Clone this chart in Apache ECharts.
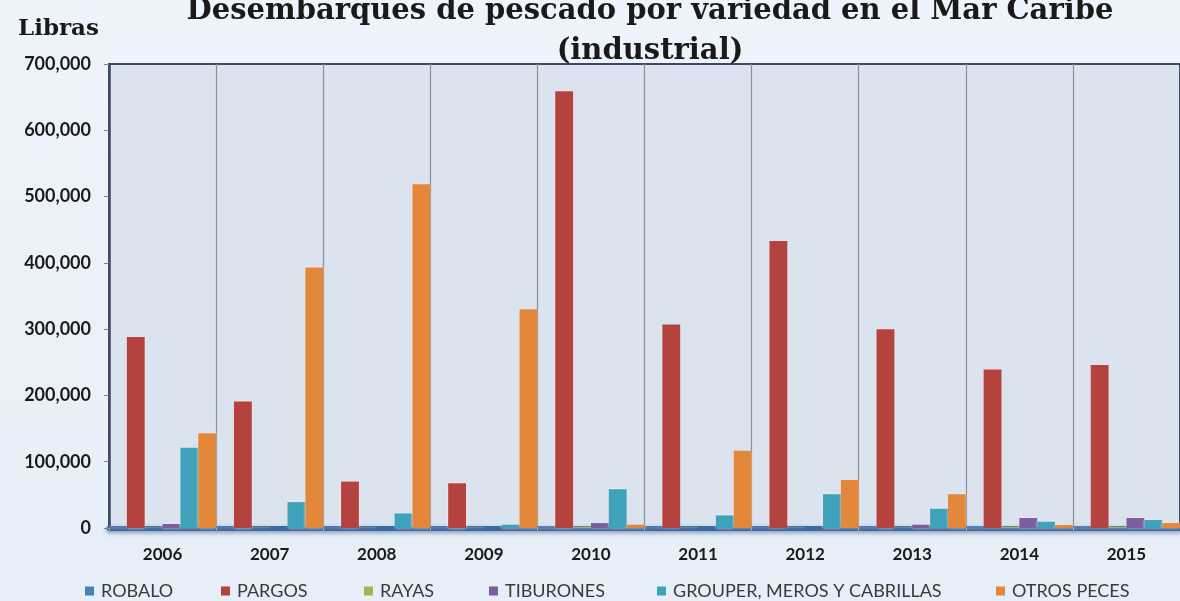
<!DOCTYPE html>
<html>
<head>
<meta charset="utf-8">
<script src="https://cdn.jsdelivr.net/npm/echarts@6/dist/echarts.min.js"></script>
<style>
  html, body { margin: 0; padding: 0; background: #edf3fa; }
  #chart { width: 1180px; height: 601px; }
</style>
</head>
<body>
<div id="chart"></div>
<script>
// años
var years = ['2006', '2007', '2008', '2009', '2010', '2011', '2012', '2013', '2014', '2015'];
// libras por variedad
var robalo    = [1000, 800, 800, 800, 1500, 800, 800, 1000, 1500, 1500];
var pargos    = [288000, 191000, 70000, 67500, 659000, 307000, 433000, 300000, 239000, 246000];
var rayas     = [500, 500, 500, 500, 1500, 500, 500, 500, 1500, 1500];
var tiburones = [6000, 0, 0, 0, 7500, 0, 0, 5000, 15000, 15000];
var grouper   = [121000, 39000, 22000, 5000, 58500, 19000, 51000, 29000, 9500, 12000];
var otros     = [143000, 393000, 518500, 330000, 5000, 116500, 72500, 51000, 4500, 7500];

var names  = ['ROBALO', 'PARGOS', 'RAYAS', 'TIBURONES', 'GROUPER, MEROS Y CABRILLAS', 'OTROS PECES'];
var values = [robalo, pargos, rayas, tiburones, grouper, otros];
var colors = ['#4a7ebb', '#b4433f', '#98b954', '#7b5e9f', '#3ea2bb', '#e3873a'];
// posición de cada leyenda
var legendLeft = [85, 221, 364, 489, 657, 996];

var chart = echarts.init(document.getElementById('chart'));

var series = [];
var legends = [];
for (var i = 0; i < names.length; i++) {
  series.push({
    name: names[i],
    type: 'bar',
    data: values[i],
    barGap: '0%',
    barCategoryGap: '0%',
    itemStyle: {
      color: colors[i],
      shadowBlur: 3,
      shadowColor: 'rgba(255,235,230,0.9)'
    }
  });
  legends.push({
    data: [names[i]],
    left: legendLeft[i],
    top: 582,
    padding: 0,
    icon: 'rect',
    itemWidth: 9,
    itemHeight: 9,
    itemGap: 0,
    selectedMode: false,
    textStyle: { fontFamily: 'Lato', fontSize: 18, color: '#3a3a3a', padding: [0, 0, 0, 2] }
  });
}

var option = {
  backgroundColor: new echarts.graphic.LinearGradient(0, 0, 0, 1, [
    { offset: 0, color: '#eef4fb' },
    { offset: 1, color: '#e6eef7' }
  ]),
  color: colors,
  title: [{
    text: 'Desembarques de pescado por variedad en el Mar Caribe\n(industrial)',
    left: 645,
    top: -14,
    textAlign: 'center',
    textStyle: {
      fontFamily: 'DejaVu Serif',
      fontWeight: 'bold',
      fontSize: 29,
      lineHeight: 40,
      color: '#1a1a1a'
    }
  }, {
    text: 'Libras',
    left: 13,
    top: 13,
    textStyle: {
      fontFamily: 'DejaVu Serif',
      fontWeight: 'bold',
      fontSize: 23,
      color: '#1a1a1a'
    }
  }],
  legend: legends,
  grid: {
    left: 109,
    top: 64,
    width: 1080,
    height: 464,
    show: true,
    backgroundColor: '#dae3ee',
    borderColor: '#3c4a66',
    borderWidth: 2
  },
  xAxis: {
    type: 'category',
    data: years,
    boundaryGap: true,
    offset: 3,
    axisLine: {
      lineStyle: {
        color: '#3a68a0',
        width: 5,
        shadowBlur: 4,
        shadowColor: 'rgba(40,70,120,0.5)',
        shadowOffsetY: 2
      }
    },
    axisTick: { show: true, length: 5, interval: 0, lineStyle: { color: '#9aa3ad' } },
    splitLine: { show: true, interval: 0, lineStyle: { color: '#89909a', width: 1.2 } },
    axisLabel: {
      margin: 15,
      fontFamily: 'Lato',
      fontWeight: 'bold',
      fontSize: 17,
      color: '#1a1a1a'
    }
  },
  yAxis: {
    type: 'value',
    min: 0,
    max: 700000,
    interval: 100000,
    axisLine: { show: true, lineStyle: { color: '#3c4a66', width: 2.5 } },
    axisTick: { show: true, length: 5, lineStyle: { color: '#7a8290' } },
    splitLine: { show: false },
    axisLabel: {
      margin: 18,
      fontFamily: 'Lato',
      fontWeight: 'bold',
      fontSize: 18,
      color: '#1a1a1a',
      formatter: function (v) { return v.toLocaleString('en-US'); }
    }
  },
  series: series
};

chart.setOption(option);
</script>
</body>
</html>
